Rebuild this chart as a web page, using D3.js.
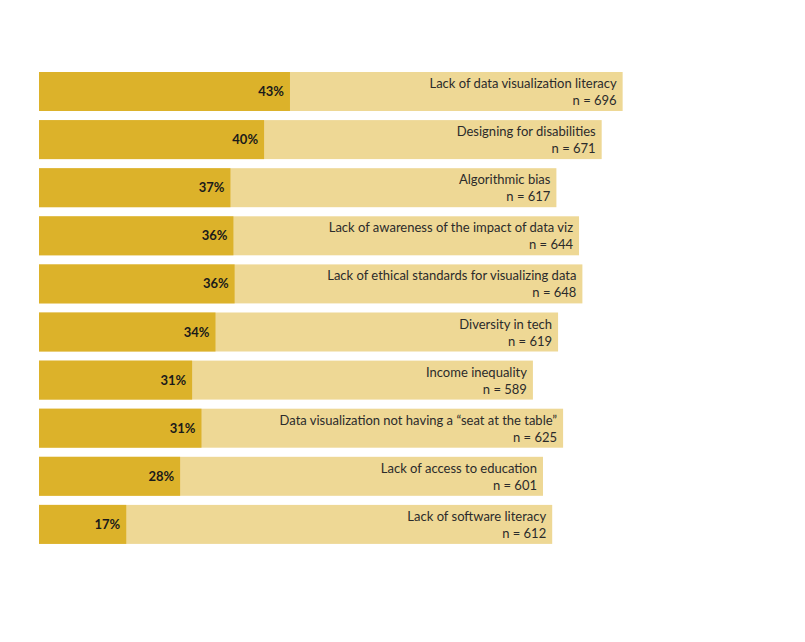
<!DOCTYPE html>
<html><head><meta charset="utf-8">
<script src="https://cdn.jsdelivr.net/npm/d3@7"></script>
<style>body{margin:0;background:#fff}</style>
</head><body>
<div id="chart"></div>
<script>
const categories = [
  "Lack of data visualization literacy",
  "Designing for disabilities",
  "Algorithmic bias",
  "Lack of awareness of the impact of data viz",
  "Lack of ethical standards for visualizing data",
  "Diversity in tech",
  "Income inequality",
  "Data visualization not having a \u201cseat at the table\u201d",
  "Lack of access to education",
  "Lack of software literacy"
];
const nValues = [696, 671, 617, 644, 648, 619, 589, 625, 601, 612];
const pctValues = [43, 40, 37, 36, 36, 34, 31, 31, 28, 17];

const W = 805, H = 642;
const svg = d3.select("#chart").append("svg").attr("width", W).attr("height", H);

const step = 48.1, bw = 39;
const x = d3.scaleLinear().domain([0, 700]).range([39, 626]);
const y = d3.scaleBand().domain(categories)
  .range([72, 72 + step * 9 + bw])
  .paddingInner((step - bw) / step).paddingOuter(0);

const data = categories.map((c, i) => ({c, n: nValues[i], p: pctValues[i]}));
const g = svg.append("g");
const row = g.selectAll("g.row").data(data).join("g").attr("class", "row");

row.append("rect")
  .attr("x", x(0)).attr("y", d => y(d.c))
  .attr("width", d => x(d.n) - x(0)).attr("height", y.bandwidth())
  .attr("fill", "#eed895");
row.append("rect")
  .attr("x", x(0)).attr("y", d => y(d.c))
  .attr("width", d => x(d.n * d.p / 100) - x(0)).attr("height", y.bandwidth())
  .attr("fill", "#dcb22a");

row.append("text")
  .attr("x", d => x(d.n * d.p / 100) - 6)
  .attr("y", d => y(d.c) + y.bandwidth() / 2 + 4.5)
  .attr("text-anchor", "end")
  .attr("font-family", "Lato, sans-serif").attr("font-weight", "bold").attr("font-size", 13)
  .attr("fill", "#1a1a1a")
  .text(d => d.p + "%");

row.append("text")
  .attr("x", d => x(d.n) - 6)
  .attr("y", d => y(d.c) + 16)
  .attr("text-anchor", "end")
  .attr("font-family", "Lato, sans-serif").attr("font-size", 13)
  .attr("fill", "#2b2b2b")
  .text(d => d.c);
row.append("text")
  .attr("x", d => x(d.n) - 6)
  .attr("y", d => y(d.c) + 33)
  .attr("text-anchor", "end")
  .attr("font-family", "Lato, sans-serif").attr("font-size", 13)
  .attr("fill", "#2b2b2b")
  .text(d => "n = " + d.n);
</script>
</body></html>
